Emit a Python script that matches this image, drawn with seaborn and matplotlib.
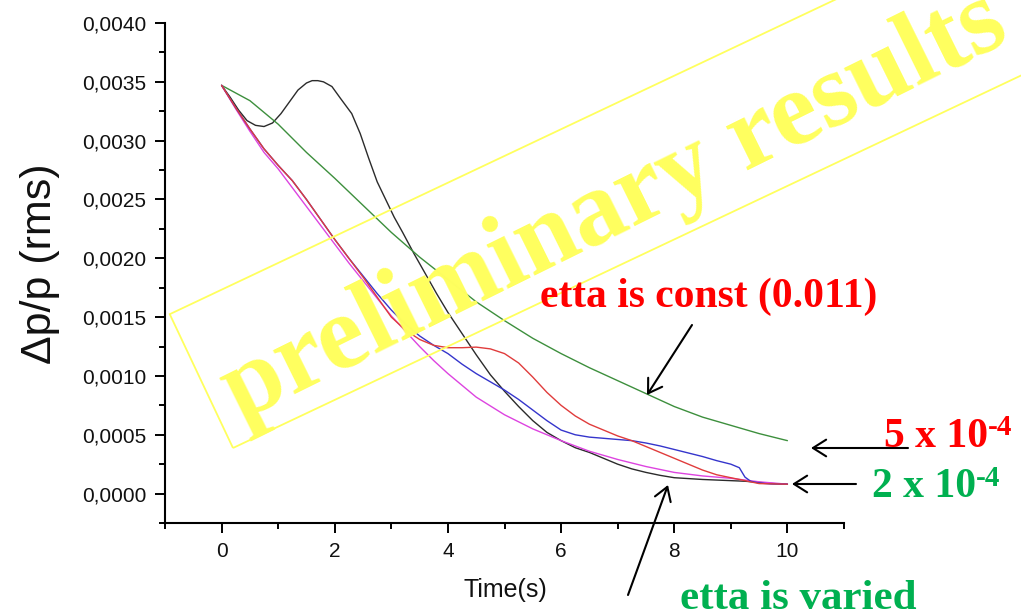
import numpy as np
import pandas as pd
import matplotlib
matplotlib.use("Agg")
import matplotlib.pyplot as plt
from matplotlib.patches import Rectangle
from matplotlib.ticker import MultipleLocator, FuncFormatter
import seaborn as sns

# ---------------- data (dp/p in units of 1e-4) -------------
t_black = [0, 0.15, 0.3, 0.45, 0.6, 0.75, 0.9, 1.05, 1.2, 1.35, 1.5, 1.6, 1.7, 1.8, 1.95, 2.1,
           2.3, 2.45, 2.6, 2.75, 2.9, 3.05, 3.2, 3.4, 3.6, 3.8, 4.0, 4.25, 4.5, 4.75, 5.0,
           5.25, 5.5, 5.75, 6.0, 6.25, 6.5, 6.75, 7.0, 7.25, 7.5, 7.75, 8.0, 8.5, 9.0, 9.25,
           9.5, 9.75, 10.0]
dp_black = [34.7, 33.7, 32.6, 31.7, 31.3, 31.2, 31.5, 32.3, 33.3, 34.3, 34.9, 35.1, 35.1, 35.0,
            34.6, 33.6, 32.3, 30.6, 28.5, 26.5, 25.0, 23.5, 22.2, 20.4, 18.7, 17.0, 15.4, 13.6,
            11.8, 10.1, 8.7, 7.4, 6.2, 5.2, 4.5, 3.9, 3.5, 3.0, 2.5, 2.1, 1.8, 1.55, 1.35, 1.2,
            1.1, 1.05, 0.95, 0.85, 0.8]

t_green = [0, 0.5, 1.0, 1.5, 2.0, 2.5, 3.0, 3.5, 4.0, 4.5, 5.0, 5.5, 6.0, 6.5, 7.0, 7.5, 8.0,
           8.5, 9.0, 9.5, 10.0]
dp_green = [34.7, 33.4, 31.4, 29.0, 26.8, 24.5, 22.2, 20.1, 18.2, 16.3, 14.7, 13.2, 11.9, 10.7,
            9.6, 8.5, 7.4, 6.5, 5.8, 5.1, 4.5]

t_magenta = [0, 0.25, 0.5, 0.75, 1.0, 1.25, 1.5, 1.75, 2.0, 2.25, 2.5, 2.75, 3.0, 3.25, 3.5,
             3.75, 4.0, 4.5, 5.0, 5.5, 6.0, 6.5, 7.0, 7.5, 8.0, 8.5, 9.0, 9.5, 10.0]
dp_magenta = [34.7, 32.7, 30.8, 29.0, 27.6, 26.0, 24.4, 22.8, 21.2, 19.6, 18.1, 16.6, 15.1, 13.8,
              12.5, 11.3, 10.2, 8.2, 6.7, 5.5, 4.5, 3.6, 2.9, 2.3, 1.8, 1.5, 1.3, 1.0, 0.8]

t_blue = [0, 0.25, 0.5, 0.75, 1.0, 1.25, 1.5, 1.75, 2.0, 2.25, 2.5, 2.75, 3.0, 3.25, 3.5, 3.75,
          4.0, 4.25, 4.5, 4.75, 5.0, 5.25, 5.5, 5.75, 6.0, 6.25, 6.5, 6.75, 7.0, 7.25, 7.5, 7.75,
          8.0, 8.25, 8.5, 8.75, 9.0, 9.15, 9.25, 9.35, 9.5, 9.7, 10.0]
dp_blue = [34.7, 32.8, 31.0, 29.3, 27.9, 26.6, 25.0, 23.3, 21.6, 20.0, 18.5, 17.0, 15.6, 14.4,
           13.4, 12.6, 11.9, 11.0, 10.2, 9.5, 8.8, 8.0, 7.1, 6.2, 5.4, 5.0, 4.8, 4.7, 4.6, 4.5,
           4.3, 4.05, 3.75, 3.45, 3.15, 2.8, 2.5, 2.2, 1.4, 1.05, 0.9, 0.82, 0.8]

t_red = [0, 0.25, 0.5, 0.75, 1.0, 1.25, 1.5, 1.75, 2.0, 2.25, 2.5, 2.75, 3.0, 3.25, 3.5, 3.75,
         4.0, 4.25, 4.5, 4.75, 5.0, 5.25, 5.5, 5.75, 6.0, 6.25, 6.5, 6.75, 7.0, 7.25, 7.5, 7.75,
         8.0, 8.25, 8.5, 8.75, 9.0, 9.25, 9.5, 10.0]
dp_red = [34.7, 32.8, 31.0, 29.3, 27.9, 26.6, 25.0, 23.3, 21.6, 20.0, 18.4, 16.7, 15.0, 13.9,
          13.1, 12.6, 12.4, 12.4, 12.45, 12.3, 11.9, 11.1, 9.9, 8.6, 7.5, 6.6, 5.9, 5.4, 4.9,
          4.5, 4.0, 3.5, 3.0, 2.5, 2.0, 1.6, 1.35, 1.1, 0.85, 0.8]

series_names = ["black", "green", "magenta", "blue", "red"]
series_colors = ["#2b2b2b", "#3d8f3d", "#dd44e0", "#3535cc", "#e03c3c"]

x_major_ticks = [0, 2, 4, 6, 8, 10]
y_major_ticks = [0.0, 0.0005, 0.0010, 0.0015, 0.0020, 0.0025, 0.0030, 0.0035, 0.0040]

xlabel = "Time(s)"
ylabel = "\u0394p/p (rms)"
watermark = "preliminary results"
label_const = "etta is const (0.011)"
label_varied = "etta is varied"
label_5 = "5 x 10"
label_2 = "2 x 10"
label_exp = "-4"

# ---------------- build table ----------------
frames = []
for name, t, dp in [("black", t_black, dp_black), ("green", t_green, dp_green),
                    ("magenta", t_magenta, dp_magenta), ("blue", t_blue, dp_blue),
                    ("red", t_red, dp_red)]:
    frames.append(pd.DataFrame({"t": t, "dp": np.array(dp) * 1e-4, "series": name}))
df = pd.concat(frames, ignore_index=True)

# ---------------- style ----------------
sns.set_style("ticks")
plt.rcParams["font.family"] = ["Liberation Sans", "DejaVu Sans"]

W, H = 1021, 614
fig = plt.figure(figsize=(W / 100, H / 100), dpi=100)
ax = fig.add_axes([165 / W, 1 - 523 / H, (844 - 165) / W, (523 - 23) / H])

sns.lineplot(data=df, x="t", y="dp", hue="series", hue_order=series_names,
             palette=dict(zip(series_names, series_colors)), estimator=None, sort=False,
             linewidth=1.0, legend=False, ax=ax)

ax.set_xlim(-1, 11)
ax.set_ylim(-0.00025, 0.0040)
ax.set_xticks(x_major_ticks)
ax.set_yticks(y_major_ticks)
ax.xaxis.set_minor_locator(MultipleLocator(1))
ax.yaxis.set_minor_locator(MultipleLocator(0.00025))
ax.yaxis.set_major_formatter(FuncFormatter(lambda v, p: f"{v:.4f}".replace(".", ",")))
ax.xaxis.set_major_formatter(FuncFormatter(lambda v, p: f"{v:.0f}"))

for s in ["top", "right"]:
    ax.spines[s].set_visible(False)
for s in ["left", "bottom"]:
    ax.spines[s].set_linewidth(1.5)
    ax.spines[s].set_color("black")
ax.tick_params(which="major", direction="out", length=7.5, width=1.4, labelsize=15,
               color="black", labelcolor="#111111", pad=6)
ax.tick_params(which="minor", direction="out", length=4, width=1.4, color="black")
ax.set_xlabel("")
ax.set_ylabel("")
ax.grid(False)

fig.text(505 / W, 1 - 590 / H, xlabel, ha="center", va="center", fontsize=18, color="#111111")
fig.text(40 / W, 1 - 264 / H, ylabel, ha="center", va="center", rotation=90, fontsize=31,
         color="#111111")

# ---------------- watermark ----------------
yellow = "#ffff5e"
fig.add_artist(Rectangle((2.33, 1.66), 12, 1.48, angle=25.3, fill=False, edgecolor=yellow,
                         linewidth=1.3, transform=fig.dpi_scale_trans, zorder=3))
fig.text(240 / W, 1 - 421 / H, watermark, ha="left", va="baseline", rotation=26.3,
         rotation_mode="anchor", fontsize=76, fontweight="bold", family="Liberation Serif",
         color=yellow, zorder=3)

# ---------------- annotations ----------------
serif = "Liberation Serif"
red = "#ff0000"
green = "#00b050"
fig.text(540 / W, 1 - 307 / H, label_const, ha="left", va="baseline", fontsize=30,
         fontweight="bold", family=serif, color=red, zorder=5)
fig.text(680 / W, 1 - 609 / H, label_varied, ha="left", va="baseline", fontsize=31,
         fontweight="bold", family=serif, color=green, zorder=5)
fig.text(988 / W, 1 - 447 / H, label_5, ha="right", va="baseline", fontsize=30,
         fontweight="bold", family=serif, color=red, zorder=5)
fig.text(988 / W, 1 - 435 / H, label_exp, ha="left", va="baseline", fontsize=21,
         fontweight="bold", family=serif, color=red, zorder=5)
fig.text(976 / W, 1 - 497 / H, label_2, ha="right", va="baseline", fontsize=30,
         fontweight="bold", family=serif, color=green, zorder=5)
fig.text(976 / W, 1 - 486 / H, label_exp, ha="left", va="baseline", fontsize=21,
         fontweight="bold", family=serif, color=green, zorder=5)

arrow_kw = dict(arrowstyle="->,head_length=0.95,head_width=0.6", lw=1.5, color="black",
                shrinkA=0, shrinkB=0)
for tail, tip in [((692, 325), (647, 395)), ((908, 448), (811, 448)),
                  ((856, 484), (792, 484)), ((628, 595), (668, 485))]:
    ax.annotate("", xy=(tip[0], H - tip[1]), xytext=(tail[0], H - tail[1]),
                xycoords="figure pixels", textcoords="figure pixels",
                arrowprops=arrow_kw, annotation_clip=False, zorder=5)

fig.savefig("out.png", dpi=100)
